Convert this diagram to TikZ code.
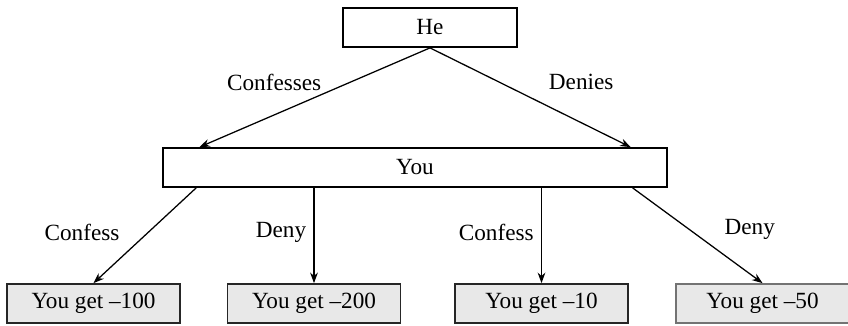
\documentclass[tikz,border=0pt]{standalone}
\usepackage{fontspec}
\setmainfont{Liberation Serif}
\usepackage{tikz}
\usetikzlibrary{arrows.meta}

\begin{document}
\begin{tikzpicture}[
    x=0.025cm, y=-0.025cm,
    every node/.style={font=\fontsize{16.5}{19}\selectfont},
    player/.style={draw=black, fill=white, line width=1.1pt,
                   minimum height=0.98cm, inner sep=0pt},
    payoff/.style={draw=black!85, fill=gray!18, line width=1.1pt,
                   minimum width=4.32cm, minimum height=0.98cm, inner sep=0pt},
    move/.style={draw=black, line width=0.9pt,
                 -{Stealth[length=7.5pt, width=5.5pt]}},
    lbl/.style={inner sep=0pt}
]
\useasboundingbox (0,0) rectangle (848,325);

\node[player, minimum width=4.35cm] (he)  at (430, 27.5) {He};
\node[player, minimum width=12.6cm] (you) at (415, 167.5) {You};

\node[payoff] (c1) at (93.5, 303.5)  {You get --100};
\node[payoff] (c2) at (314, 303.5)   {You get --200};
\node[payoff] (c3) at (541.5, 303.5) {You get --10};
\node[payoff, draw=black!55] (c4) at (762.5, 303.5) {You get --50};

% his choice
\draw[move] (he.south) -- node[lbl, midway, anchor=east, xshift=0.18cm, yshift=0.38cm]{Confesses}
    ([xshift=0.93cm]you.north west);
\draw[move] (he.south) -- node[lbl, midway, anchor=west, xshift=0.45cm, yshift=0.38cm]{Denies}
    ([xshift=-0.93cm]you.north east);

% your choice
\draw[move] ([xshift=0.85cm]you.south west) -- node[lbl, midway, anchor=east, xshift=-0.62cm, yshift=0.08cm]{Confess} (c1.north);
\draw[move] (you.south -| c2.north) -- node[lbl, midway, anchor=east, xshift=-0.18cm, yshift=0.08cm]{Deny} (c2.north);
\draw[move] (you.south -| c3.north) -- node[lbl, midway, anchor=east, xshift=-0.18cm, yshift=0.08cm]{Confess} (c3.north);
\draw[move] ([xshift=-0.88cm]you.south east) -- node[lbl, midway, anchor=west, xshift=0.66cm, yshift=0.16cm]{Deny} (c4.north);
\end{tikzpicture}
\end{document}
